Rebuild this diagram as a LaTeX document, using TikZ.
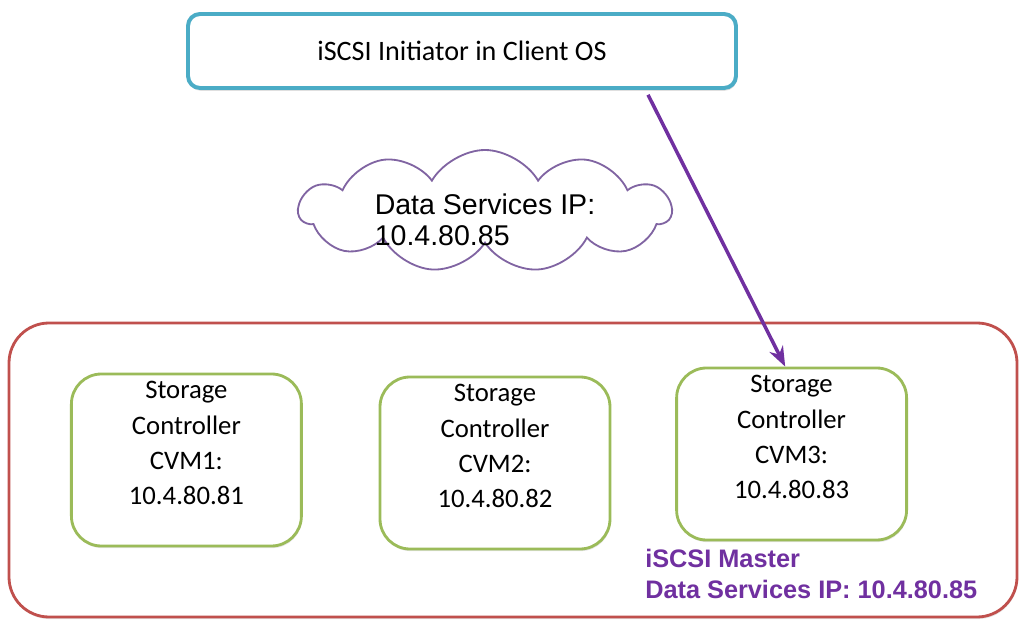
\documentclass[tikz,border=0pt]{standalone}
\usepackage{fontspec}
\setmainfont{Carlito}
\newfontfamily\arialfont{Liberation Sans}
\usetikzlibrary{shapes.symbols,shadows,arrows.meta}
\definecolor{initblue}{HTML}{4BACC6}
\definecolor{clusterred}{HTML}{C0504D}
\definecolor{cvmgreen}{HTML}{9BBB59}
\definecolor{masterpurple}{HTML}{7030A0}
\definecolor{cloudpurple}{HTML}{8064A2}
\tikzset{
  cvmbox/.style = {draw = cvmgreen, line width = 2pt, rounded corners = 0.75cm, fill = white,
                   minimum width = 5.75cm, minimum height = 4.3cm, align = center, text depth = 0.85cm,
                   font = \fontsize{19}{25}\selectfont,
                   drop shadow = {opacity = 0.2, shadow xshift = 0.5pt, shadow yshift = -1.5pt}}
}

\begin{document}
\begin{tikzpicture}[>= Stealth]
          \useasboundingbox (0, 0) rectangle (25.6, -15.775);
          \node[draw = clusterred, line width = 2pt, rounded corners = 1cm, fill = white,
                minimum width = 25.2cm, minimum height = 7.35cm,
                drop shadow = {opacity = 0.2, shadow xshift = 0.5pt, shadow yshift = -1.5pt}]
                (cluster) at (12.825, -11.75) {};
          \node[draw = initblue, line width = 2.8pt, rounded corners = 0.3cm, fill = white,
                minimum width = 13.7cm, minimum height = 1.85cm, font = \fontsize{20}{24}\selectfont,
                drop shadow = {opacity = 0.25, shadow xshift = 0.5pt, shadow yshift = -2pt}]
                (init) at (11.55, -1.275) {iSCSI Initiator in Client OS};
          \node[cloud, draw = cloudpurple, line width = 1.3pt, cloud puffs = 11, cloud puff arc = 120,
                aspect = 3, minimum width = 9.3cm, minimum height = 3.05cm]
                (dsip) at (12.125, -5.275) {};
          \node[align = left, font = \arialfont\fontsize{20.3}{22.5}\selectfont]
                (dsiptext) at ([yshift = -0.22cm]dsip.center) {Data Services IP:\\10.4.80.85};
          \node[cvmbox] (cvm1) at (4.66, -11.5) {Storage\\Controller\\CVM1:\\10.4.80.81};
          \node[cvmbox] (cvm2) at (12.375, -11.575) {Storage\\Controller\\CVM2:\\10.4.80.82};
          \node[cvmbox] (cvm3) at (19.79, -11.35) {Storage\\Controller\\CVM3:\\10.4.80.83};
          \node[anchor = base west, align = left, text = masterpurple, inner sep = 0pt,
                font = \arialfont\bfseries\fontsize{18}{22}\selectfont]
                (master) at (16.125, -14.95) {iSCSI Master\\Data Services IP: 10.4.80.85};
          \draw[->, draw = masterpurple, line width = 2.5pt]
                ([xshift = 4.65cm, yshift = -0.12cm]init.south) -- ([xshift = -0.16cm]cvm3.north);
      \end{tikzpicture}
\end{document}
